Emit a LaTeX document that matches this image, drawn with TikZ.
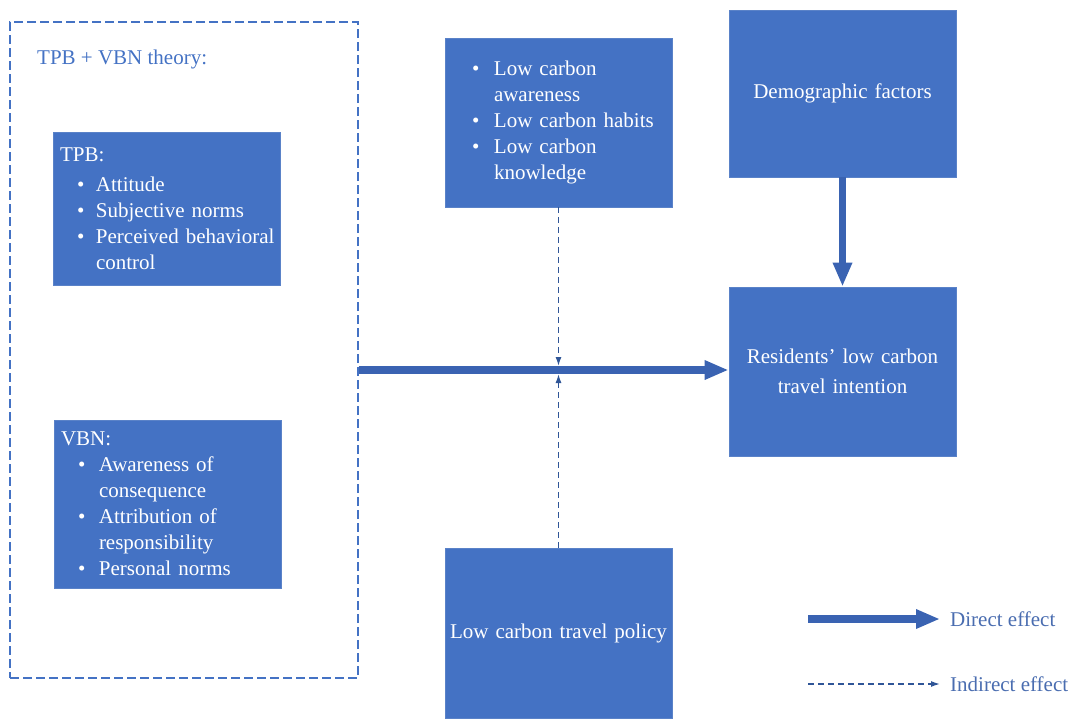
\documentclass[tikz,border=0pt]{standalone}
\usepackage{fontspec}
\setmainfont{Liberation Serif}
\usetikzlibrary{arrows.meta}
\definecolor{boxblue}{HTML}{4472C4}
\definecolor{boxedge}{HTML}{5A82C8}
\definecolor{arrblue}{HTML}{3A63B2}
\definecolor{dashblue}{HTML}{2F5597}
\definecolor{labblue}{HTML}{4A6DB0}
\newlength{\bind}\setlength{\bind}{17pt}
\newlength{\bgap}\setlength{\bgap}{19pt}
\newcommand{\bitem}[1]{\mbox{\hspace*{\bind}\makebox[\bgap][l]{\textbullet}#1}}
\newcommand{\bcont}[1]{\mbox{\hspace*{\bind}\hspace*{\bgap}#1}}
\tikzset{
  bluebox/.style={rectangle, fill=boxblue, draw=boxedge, line width=0.8pt, text=white,
    minimum width=227pt, inner sep=0pt},
  leftbox/.style={bluebox, align=left, text width=213pt},
  centerbox/.style={bluebox, align=center, text width=225pt},
  directarrow/.style={draw=arrblue, line width=7.5pt, -{Triangle[length=24pt,width=18pt]}},
  indirectarrow/.style={draw=dashblue, line width=1.4pt, dash pattern=on 6pt off 4pt,
    -{Latex[length=9pt,width=6pt]}},
  legendtext/.style={anchor=west, inner xsep=10pt, text=labblue},
}
\begin{document}
\begin{tikzpicture}[x=1pt,y=-1pt,font=\fontsize{21}{26}\selectfont]
\useasboundingbox (0,0) rectangle (1074,718);

% dashed frame
\node[rectangle, draw=boxblue, line width=1.3pt, dash pattern=on 9pt off 4pt,
  minimum width=348pt, minimum height=656pt, inner sep=0pt] (frame) at (184,350) {};
\node[anchor=base west, inner sep=0pt, text=boxblue] (title) at (37,64) {TPB + VBN theory:};

% TPB box
\node[leftbox, minimum height=153pt] (tpb) at (166.5,208.5) {%
TPB:\\[4pt]
\bitem{Attitude}\\
\bitem{Subjective norms}\\
\bitem{Perceived behavioral}\\
\bcont{control}};

% VBN box
\node[leftbox, minimum height=168pt] (vbn) at (167.5,504) {%
VBN:\\
\setlength{\bgap}{21pt}\bitem{Awareness of}\\
\setlength{\bgap}{21pt}\bcont{consequence}\\
\setlength{\bgap}{21pt}\bitem{Attribution of}\\
\setlength{\bgap}{21pt}\bcont{responsibility}\\
\setlength{\bgap}{21pt}\bitem{Personal norms}};

% low carbon box
\node[leftbox, minimum height=169pt] (lcf) at (558.5,122.5) {%
\setlength{\bind}{20pt}\setlength{\bgap}{22pt}\bitem{Low carbon}\\
\setlength{\bind}{20pt}\setlength{\bgap}{22pt}\bcont{awareness}\\
\setlength{\bind}{20pt}\setlength{\bgap}{22pt}\bitem{Low carbon habits}\\
\setlength{\bind}{20pt}\setlength{\bgap}{22pt}\bitem{Low carbon}\\
\setlength{\bind}{20pt}\setlength{\bgap}{22pt}\bcont{knowledge}};

% demographic
\node[centerbox, minimum height=167pt] (demo) at (842.5,93.5) {Demographic factors};

% residents
\node[centerbox, minimum height=169pt] (res) at (842.5,371.5) {Residents' low carbon\\[4pt]travel intention};

% policy
\node[centerbox, minimum height=170pt] (pol) at (558.5,633) {Low carbon travel policy};

% connectors
\coordinate (junc) at (558.5,370);
\draw[directarrow] (frame.east |- junc) -- (res.west |- junc);
\draw[indirectarrow] (lcf.south -| junc) -- ([yshift=4pt]junc);
\draw[indirectarrow] (pol.north) -- ([yshift=-4pt]junc);
\draw[directarrow] (demo.south) -- (res.north);

% legend
\coordinate (l1) at (808,619);
\node[legendtext] (ltext1) at (940,619) {Direct effect};
\draw[directarrow] (l1) -- (ltext1.west);
\coordinate (l2) at (808,684);
\node[legendtext] (ltext2) at (940,684) {Indirect effect};
\draw[indirectarrow] (l2) -- (ltext2.west);
\end{tikzpicture}
\end{document}
